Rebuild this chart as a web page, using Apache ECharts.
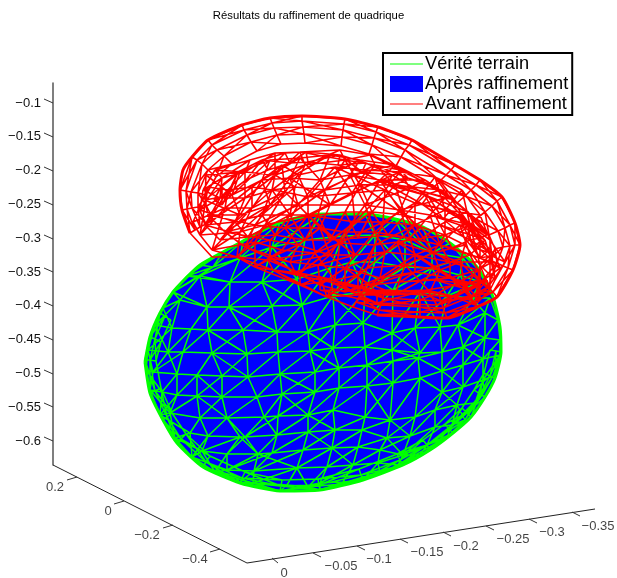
<!DOCTYPE html>
<html><head><meta charset="utf-8">
<script src="https://cdn.jsdelivr.net/npm/echarts@6/dist/echarts.min.js"></script>
<style>html,body{margin:0;padding:0;background:#fff}#c{width:617px;height:578px}</style>
</head><body><div id="c"></div>
<script>
const titleText = 'Résultats du raffinement de quadrique';
const seriesNames = ['Vérité terrain', 'Après raffinement', 'Avant raffinement'];
const colors = ['#00ff00', '#0000ff', '#ff0000'];
const zTicks = [-0.1,-0.15,-0.2,-0.25,-0.3,-0.35,-0.4,-0.45,-0.5,-0.55,-0.6];
const zTickLines = [[44,99,53,103],[44,133,53,137],[44,167,53,171],[44,201,53,205],[44,235,53,239],[44,268,53,272],[44,302,53,306],[44,336,53,340],[44,370,53,374],[44,403,53,407],[44,437,53,441]];
const axisFrame = [[53,465],[247,563],[595,509]];
const yTickLines = [[67,480,77,477],[114,504,124,501],[163,528,173,525],[210,552,220,549]];
const yTickLabels = ['0.2','0','−0.2','−0.4'];
const yLabelPos = [[55,487],[108,511],[147,535],[195,559]];
const xTickLines = [[272,558,278,563],[313,553,321,557],[357,546,365,550],[400,539,408,543],[443,532,451,536],[486,526,494,530],[529,519,537,523],[572,512,580,516]];
const xTickLabels = ['0','−0.05','−0.1','−0.15','−0.2','−0.25','−0.3','−0.35'];
const xLabelPos = [[284,573],[341,566],[379,559],[427,552],[466,546],[513,539],[552,532],[598,526]];
const blueOutline = [[145,362],[150,337],[160,313],[173,292],[186,278],[200,265],[223,252],[243,241],[280,222],[322,214],[365,214],[395,219],[423,227],[450,243],[477,267],[493,297],[500,327],[501,352],[495,378],[485,397],[471,417],[453,433],[430,450],[403,465],[363,480],[320,490],[280,491],[240,483],[203,467],[177,443],[163,420],[150,393],[145,362]];
const greenRows = [
[[200,265],[223,252],[243,241],[280,222],[322,214],[365,214],[395,219],[423,227],[450,243]],
[[187,276],[213,267],[240,258],[272,247],[305,240],[343,236],[375,235],[405,240],[432,253],[463,258]],
[[173,292],[200,276],[230,282],[262,282],[297,279],[330,268],[352,262],[375,262],[405,267],[432,268],[460,275],[480,282]],
[[163,308],[180,300],[207,307],[229,307],[272,306],[302,305],[333,296],[365,292],[393,290],[420,292],[447,296],[472,298],[490,298]],
[[155,325],[172,328],[191,329],[208,330],[243,330],[277,332],[308,332],[335,325],[363,323],[392,333],[415,328],[440,327],[458,325],[485,313],[498,320]],
[[148,350],[168,352],[183,352],[212,353],[247,354],[278,352],[310,351],[333,348],[365,347],[392,350],[420,353],[442,352],[463,347],[485,338],[500,340]],
[[146,370],[153,372],[177,374],[197,375],[222,376],[248,377],[280,374],[315,372],[339,368],[367,365],[393,361],[418,358],[442,371],[463,365],[483,359],[500,355]],
[[150,390],[162,392],[177,395],[197,396],[222,397],[257,397],[282,394],[315,392],[339,388],[367,386],[393,383],[420,378],[442,392],[463,387],[483,380],[493,376]],
[[160,415],[170,413],[200,418],[227,418],[264,417],[278,416],[308,415],[333,410],[365,417],[390,420],[415,417],[435,410],[457,405],[475,403],[484,392]],
[[175,438],[190,433],[208,436],[240,437],[245,437],[277,435],[308,432],[335,430],[362,430],[387,438],[410,436],[435,427],[452,425],[465,420]],
[[192,457],[202,451],[227,454],[258,454],[272,453],[303,450],[332,448],[358,447],[380,450],[403,455],[427,445],[447,437]],
[[215,472],[227,470],[254,471],[297,468],[327,467],[353,465],[378,463],[398,465],[420,455]],
[[240,482],[253,483],[287,485],[308,487],[320,483],[343,482],[363,480],[380,473],[403,465]],
[[280,491],[320,490],[353,483]]
];
const greenRings = [
[[160,313],[150,337],[145,360],[150,393],[163,420],[177,443],[203,467],[240,483],[280,491],[320,490],[363,480],[403,465],[430,450],[453,433],[471,417],[485,397],[495,378],[501,352]],
[[165,316],[155,339],[150,360],[155,391],[167,417],[181,439],[206,462],[242,478],[281,486],[319,485],[361,475],[400,460],[427,445],[449,429],[467,413],[480,394],[490,376],[496,351]],
[[171,320],[161,342],[156,361],[161,388],[172,413],[186,434],[210,456],[245,472],[282,480],[318,479],[359,469],[397,454],[423,440],[445,424],[462,408],[474,390],[484,373],[490,350]]
];
const redRows = [
[[193,222],[208,187],[228,190],[252,187],[282,165],[298,175],[335,167],[367,170],[400,172],[435,177],[462,190],[480,215],[490,240],[505,262]],
[[200,235],[225,208],[252,208],[285,192],[308,197],[352,193],[385,190],[415,203],[445,210],[470,225],[490,255],[495,280]],
[[212,250],[240,232],[265,225],[308,215],[355,222],[383,222],[415,225],[445,235],[465,245],[480,265],[490,290]],
[[237,257],[255,242],[282,250],[315,253],[340,243],[375,245],[397,242],[433,253],[460,262],[478,280],[480,300]],
[[255,267],[268,260],[300,273],[335,280],[358,275],[367,268],[405,265],[440,270],[465,285],[475,305]],
[[273,270],[300,285],[327,297],[358,295],[395,295],[430,292],[455,297],[470,300]],
[[320,277],[377,292],[427,290],[487,280]],
[[320,290],[377,303],[437,305],[490,290]]
];
const redBackRows = [
[[206,175],[240,172],[270,160],[300,158],[330,155],[360,160],[395,165],[425,180],[455,200]],
[[205,200],[232,195],[262,180],[290,178],[320,180],[350,175],[380,180],[410,188],[445,198],[470,225]],
[[208,215],[240,215],[270,205],[298,205],[330,205],[365,205],[400,210],[430,215],[460,225],[485,240]],
[[225,232],[255,225],[285,228],[320,228],[345,232],[375,232],[410,238],[440,245],[470,255],[492,262]],
[[245,247],[270,240],[298,245],[330,255],[355,255],[385,252],[415,255],[450,262],[478,270]],
[[270,258],[290,262],[318,265],[345,268],[380,278],[415,272],[450,278],[480,285]],
[[295,272],[320,285],[345,292],[370,285],[400,282],[435,280],[470,290]]
];
const redMidRows = [
[[215,170],[250,160],[275,153],[300,152],[340,150],[370,155],[400,170],[430,185],[460,205],[480,228]],
[[203,190],[222,178],[245,172],[275,175],[305,165],[345,160],[375,165],[408,178],[440,190],[468,212],[487,235]],
[[200,210],[220,198],[245,198],[272,190],[295,187],[325,190],[360,185],[395,185],[425,195],[458,215],[480,238]],
[[205,225],[235,222],[262,215],[290,215],[318,215],[345,212],[372,212],[405,215],[440,225],[470,240],[495,255]],
[[220,240],[248,237],[275,235],[305,240],[330,240],[358,238],[388,235],[420,240],[452,248],[480,258],[500,268]]
];
const redUpperArcs = [
[[214,200],[222,185],[238,172],[262,160],[285,153],[306,152],[340,155],[366,163],[392,175],[428,196],[450,211],[468,226],[480,242],[487,252]],
[[222,205],[230,192],[246,180],[268,170],[290,163],[308,162],[338,165],[362,172],[388,185],[422,204],[443,219],[460,233],[472,247],[480,258]]
];
const redRings = [
[[190,233],[182,210],[180,190],[192,157],[208,140],[242,125],[270,118],[302,116],[345,119],[378,127],[412,140],[455,165],[480,180],[502,197],[515,223],[520,245],[513,270],[497,297],[477,307],[447,318],[420,317],[377,315],[353,307]],
[[195,230],[187,209],[186,191],[197,160],[212,145],[244,130],[272,123],[302,121],[344,124],[376,132],[409,145],[451,170],[476,185],[497,201],[510,225],[515,245],[508,268],[493,292],[474,302],[445,313],[420,312],[379,310],[356,302]],
[[200,227],[192,208],[191,192],[202,164],[217,150],[247,135],[274,128],[303,127],[343,130],[374,138],[405,150],[446,175],[471,190],[492,206],[505,228],[510,246],[503,266],[488,287],[470,297],[443,308],[420,307],[381,305],[359,297]],
[[206,224],[198,207],[198,193],[208,170],[224,156],[251,142],[277,135],[304,134],[342,137],[372,145],[401,157],[440,181],[465,196],[485,212],[498,231],[503,247],[497,263],[482,281],[464,291],[441,301],[420,300],[383,298],[363,291]],
[[213,219],[206,205],[206,195],[216,177],[232,164],[257,151],[281,144],[305,143],[341,146],[369,154],[396,166],[433,188],[457,203],[476,219],[489,235],[495,249],[489,260],[474,274],[457,283],[438,293],[419,292],[385,290],[367,283]]
];
const redOuterArc = [[190,233],[182,210],[180,190],[183,170],[192,157],[208,140],[242,125],[270,118],[302,116],[345,119],[378,127],[412,140],[455,165],[480,180],[502,197],[515,223],[520,245],[513,270],[497,297],[477,307],[447,318],[420,317],[377,315]];
const redLowerEdge = [[[377,315],[353,307],[327,297],[297,282],[273,270],[237,257],[212,257],[190,233]]];

function stitch(rows){
  const pts=[]; const BR=['-','-'];
  const add=(a,b)=>{pts.push(a,b,BR);};
  rows.forEach((r,i)=>{
    for(let j=0;j+1<r.length;j++) add(r[j],r[j+1]);
    const nx=rows[i+1]; if(!nx) return;
    r.forEach((p,j)=>{
      let k=0,best=1e9;
      nx.forEach((q,m)=>{const d=Math.abs(q[0]-p[0]); if(d<best){best=d;k=m;}});
      add(p,nx[k]);
      if(k>0) add(p,nx[k-1]);
      if(j%3===0&&k+1<nx.length) add(p,nx[k+1]);
    });
  });
  return pts;
}
function stitchRings(rings){
  const pts=[]; const BR=['-','-'];
  const add=(a,b)=>{pts.push(a,b,BR);};
  rings.forEach((r,i)=>{
    for(let j=0;j+1<r.length;j++) add(r[j],r[j+1]);
    const nx=rings[i+1]; if(!nx) return;
    r.forEach((p,j)=>{
      add(p,nx[j]);
      if(j+1<nx.length&&(i+j)%2===0) add(p,nx[j+1]);
      if(j>0&&(i+j)%2===1) add(p,nx[j-1]);
    });
  });
  return pts;
}
function segs(list){const o=[];list.forEach(s=>{o.push([s[0],s[1]],[s[2],s[3]],['-','-']);});return o;}
const noAxis={show:false};
const labelSeries=(pos,txt)=>({type:'scatter',symbolSize:0,xAxisIndex:0,yAxisIndex:0,silent:true,
  data:pos.map((p,i)=>({value:p,label:{formatter:txt[i]}})),
  label:{show:true,position:'inside',color:'#111',fontSize:13,fontFamily:'Liberation Sans'}});
const lineIcon='path://M0,0L0,0.01M0,7.5L33,7.5L33,8.5L0,8.5ZM33,16L33,16.01';
const chart=echarts.init(document.getElementById('c'));
chart.setOption({
  animation:false,backgroundColor:'#fff',
  title:{text:titleText,left:'center',top:5,textStyle:{fontSize:11.3,fontWeight:'normal',color:'#000',fontFamily:'Liberation Sans'}},
  legend:{data:[{name:seriesNames[0],icon:lineIcon},{name:seriesNames[1],icon:'rect'},{name:seriesNames[2],icon:lineIcon}],
    orient:'vertical',left:383,top:53,
    padding:[2,4,2,7],itemGap:2,itemWidth:33,itemHeight:16,borderColor:'#000',borderWidth:2,backgroundColor:'#fff',
    itemStyle:{borderWidth:0},
    textStyle:{fontSize:18.2,lineHeight:17,color:'#000',fontFamily:'Liberation Sans',padding:[0,0,0,-3]},selectedMode:false},
  grid:[{left:0,top:0,width:617,height:578},{left:53,top:83,width:1,height:382}],
  xAxis:[{type:'value',min:0,max:617,...noAxis},{type:'value',gridIndex:1,min:0,max:1,...noAxis}],
  yAxis:[{type:'value',min:0,max:578,inverse:true,...noAxis},
    {type:'value',gridIndex:1,min:-0.6355,max:-0.0704,splitLine:{show:false},
     axisLine:{show:true,onZero:false,lineStyle:{color:'#555',width:1.5}},axisTick:{show:false},
     axisLabel:{customValues:zTicks,margin:12,color:'#111',fontSize:13,fontFamily:'Liberation Sans',padding:[0,0,14,0],
       formatter:v=>String(v).replace('-','−')}}],
  series:[
    {name:seriesNames[1],type:'custom',xAxisIndex:0,yAxisIndex:0,data:blueOutline,encode:{x:0,y:1},silent:true,z:2,
      itemStyle:{color:colors[1]},
      renderItem:(p,api)=>p.dataIndex===0?{type:'polygon',shape:{points:blueOutline.map(q=>api.coord(q)),smooth:0.2},style:{fill:colors[1]}}:null},
    {name:seriesNames[0],type:'line',xAxisIndex:0,yAxisIndex:0,data:stitch(greenRows).concat(stitchRings(greenRings)),symbol:'none',silent:true,z:3,
      lineStyle:{color:colors[0],width:1.5},itemStyle:{color:colors[0]}},
    {name:'contour vert',type:'line',xAxisIndex:0,yAxisIndex:0,data:blueOutline,smooth:0.2,symbol:'none',silent:true,z:3,
      lineStyle:{color:colors[0],width:3}},
    {name:seriesNames[2],type:'line',xAxisIndex:0,yAxisIndex:0,data:stitch(redRows).concat(stitch(redBackRows),stitch(redMidRows),stitch(redUpperArcs),stitch(redLowerEdge),stitchRings(redRings)),symbol:'none',silent:true,z:4,
      lineStyle:{color:colors[2],width:1.6},itemStyle:{color:colors[2]}},
    {name:'contour rouge',type:'line',xAxisIndex:0,yAxisIndex:0,data:redOuterArc,smooth:0.2,symbol:'none',silent:true,z:4,
      lineStyle:{color:colors[2],width:3}},
    {name:'axes',type:'line',xAxisIndex:0,yAxisIndex:0,data:axisFrame,symbol:'none',silent:true,z:1,
      lineStyle:{color:'#222',width:1}},
    {name:'graduations',type:'line',xAxisIndex:0,yAxisIndex:0,data:segs(zTickLines.concat(yTickLines,xTickLines)),symbol:'none',silent:true,z:1,
      lineStyle:{color:'#333',width:1}},
    labelSeries(yLabelPos,yTickLabels),
    labelSeries(xLabelPos,xTickLabels)
  ]
});
</script></body></html>
